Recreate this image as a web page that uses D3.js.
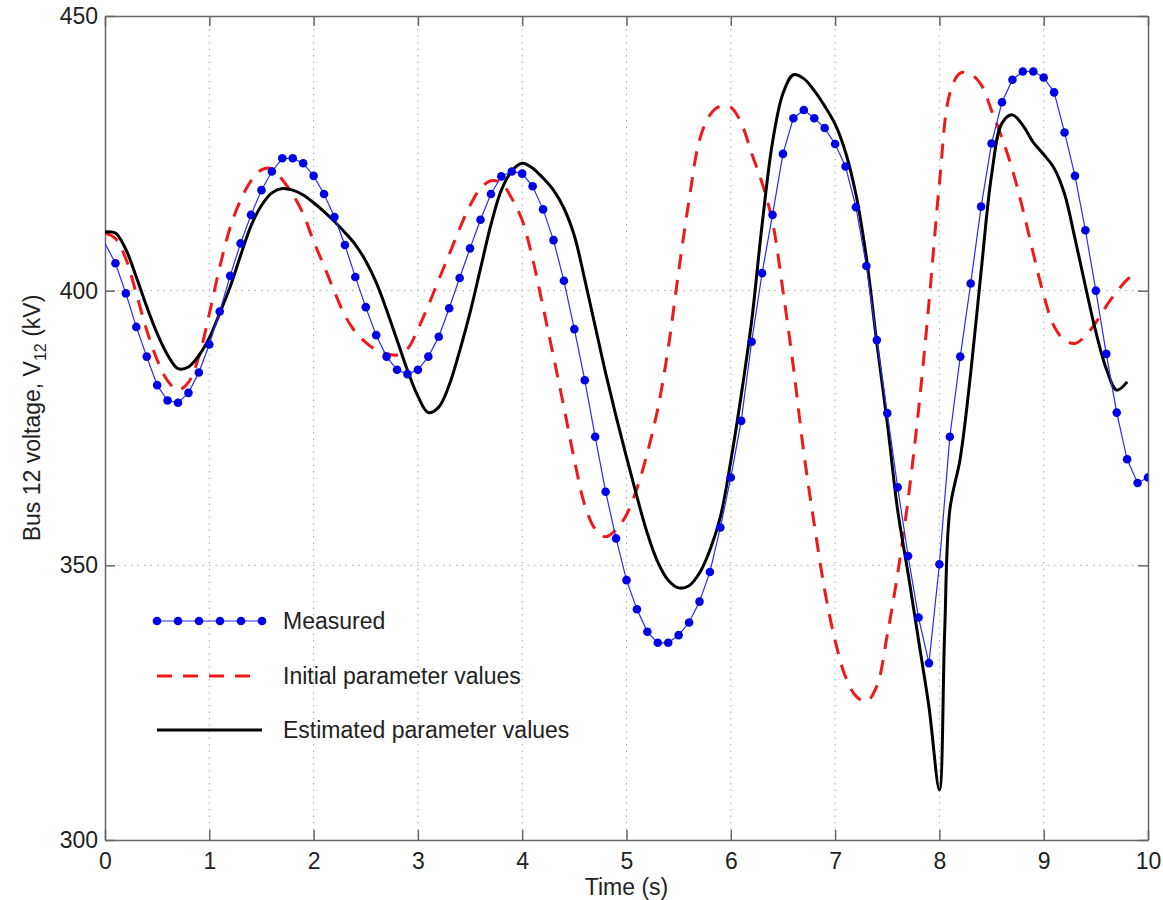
<!DOCTYPE html>
<html>
<head>
<meta charset="utf-8">
<script src="https://cdn.jsdelivr.net/npm/d3@7/dist/d3.min.js"></script>
<style>
  body { margin: 0; background: #fff; }
  svg { font-family: "Liberation Sans", Arial, sans-serif; }
  .axis path, .axis line { stroke: #666; stroke-width: 1.5; }
  .axis text { font-size: 23px; fill: #222; }
  .grid line { stroke: #aaa; stroke-width: 1; stroke-dasharray: 1.5, 5; }
</style>
</head>
<body>
<svg id="chart" width="1163" height="900"></svg>
<script>
const xTicks = [0, 1, 2, 3, 4, 5, 6, 7, 8, 9, 10]
const yTicks = [300, 350, 400, 450]

// measured, sampled every 0.1 s
const measuredTime = d3.range(0, 101).map(i => i / 10)
const measured = [
	408.6, 405.0, 399.5, 393.4, 388.0, 382.8, 380.0, 379.6, 381.4, 385.1,
	390.2, 396.2, 402.7, 408.6, 413.8, 418.3, 421.7, 424.1, 424.1, 423.2,
	420.9, 417.6, 413.4, 408.3, 402.5, 397.0, 391.9, 388.0, 385.6, 384.8,
	385.6, 388.0, 391.6, 396.8, 402.3, 407.7, 412.9, 417.6, 420.8, 421.7,
	421.3, 419.0, 414.8, 409.2, 401.8, 393.0, 383.7, 373.4, 363.4, 354.9,
	347.3, 342.0, 337.9, 335.9, 335.9, 337.3, 339.6, 343.4, 348.8, 356.9,
	366.0, 376.3, 390.7, 403.2, 413.8, 424.9, 431.4, 432.9, 431.4, 429.6,
	426.7, 422.6, 415.2, 404.5, 391.0, 377.7, 364.2, 351.7, 340.5, 332.2,
	350.2, 373.4, 388.0, 401.3, 415.3, 426.8, 434.3, 438.4, 439.9, 439.9,
	438.8, 436.1, 428.8, 420.9, 411.0, 400.0, 388.5, 377.8, 369.3, 365.0,
	366.0
]

// initial parameter values, 0 .. 9.9 s
const initialTime = d3.range(0, 100).map(i => i / 10)
const initial = [
	410.5, 409.5, 405.8, 399.5, 392.8, 387.4, 383.6, 381.9, 383.3, 388.0,
	395.8, 404.3, 411.5, 416.5, 420.0, 422.0, 422.2, 420.2, 417.5, 414.0,
	409.0, 404.5, 399.8, 395.5, 392.5, 390.6, 389.2, 388.5, 388.3, 389.4,
	393.0, 397.3, 402.0, 406.6, 411.3, 415.5, 418.6, 420.0, 419.6, 416.8,
	412.8, 405.8, 397.0, 388.0, 378.8, 369.2, 361.0, 356.6, 355.2, 356.5,
	359.2, 364.0, 370.5, 378.5, 389.5, 403.5, 416.5, 427.4, 432.0, 433.6,
	433.4, 430.5, 425.0, 419.6, 412.5, 400.0, 386.1, 370.5, 357.5, 345.5,
	336.3, 329.7, 326.2, 325.2, 328.0, 337.3, 348.5, 362.0, 378.3, 397.8,
	419.5, 435.9, 439.6, 439.4, 437.5, 432.8, 427.8, 422.0, 414.8, 406.8,
	399.2, 393.5, 391.0, 390.4, 391.8, 394.2, 397.2, 399.8, 402.0, 403.5
]

// estimated parameter values
const estimatedTime = [
	0, 0.1, 0.2, 0.3, 0.4, 0.5, 0.6, 0.7, 0.8, 0.9,
	1.0, 1.1, 1.2, 1.3, 1.4, 1.5, 1.6, 1.7, 1.8, 1.9,
	2.0, 2.1, 2.2, 2.3, 2.4, 2.5, 2.6, 2.7, 2.8, 2.9,
	3.0, 3.1, 3.2, 3.3, 3.4, 3.5, 3.6, 3.7, 3.8, 3.9,
	4.0, 4.1, 4.2, 4.3, 4.4, 4.5, 4.6, 4.7, 4.8, 4.9,
	5.0, 5.1, 5.2, 5.3, 5.4, 5.5, 5.6, 5.7, 5.8, 5.9,
	6.0, 6.1, 6.2, 6.3, 6.4, 6.5, 6.6, 6.7, 6.8, 6.9,
	7.0, 7.1, 7.2, 7.3, 7.4, 7.5, 7.6, 7.7, 7.8, 7.9,
	8.0, 8.05, 8.1, 8.2, 8.3, 8.4, 8.5, 8.6, 8.7, 8.8, 8.9,
	9.0, 9.1, 9.2, 9.3, 9.4, 9.5, 9.6, 9.7, 9.8
]
const estimated = [
	410.7, 410.5, 407.5, 402.5, 397.1, 392.2, 388.3, 385.8, 386.1, 388.2,
	391.4, 395.9, 400.7, 406.4, 411.8, 415.5, 417.8, 418.6, 418.3, 417.4,
	416.0, 414.4, 412.6, 410.6, 408.4, 405.4, 401.5, 396.5, 391.0, 385.5,
	380.8, 377.8, 378.8, 382.8, 389.0, 396.0, 404.0, 412.0, 418.3, 421.8,
	423.2, 422.3, 420.5, 418.3, 415.0, 410.0, 402.0, 393.5, 385.0, 377.1,
	369.7, 362.5, 355.8, 350.6, 347.3, 345.9, 346.3, 348.6, 352.8, 358.8,
	369.0, 381.0, 394.5, 412.0, 427.0, 435.9, 439.3, 438.6, 436.4, 433.6,
	430.3, 425.2, 417.5, 406.0, 390.5, 376.0, 360.0, 348.5, 336.4, 324.2,
	309.1, 337.6, 360.1, 369.5, 385.0, 403.5, 421.0, 430.5, 432.0, 430.1, 427.0,
	424.8, 422.3, 417.6, 409.5, 400.8, 392.5, 385.8, 381.9, 383.4
]

const legendLabels = ['Measured', 'Initial parameter values', 'Estimated parameter values']

const margins = { top: 16, right: 15, bottom: 60, left: 105 }
const svg = d3.select('#chart')
const width = 1163 - margins.left - margins.right
const height = 900 - margins.top - margins.bottom

const x = d3.scaleLinear().domain([0, 10]).range([0, width])
const y = d3.scaleLinear().domain([300, 450]).range([height, 0])

const g = svg.append('g').attr('transform', `translate(${margins.left},${margins.top})`)

// grid
g.append('g').attr('class', 'grid')
	.selectAll('line').data(xTicks.slice(1, -1)).enter().append('line')
	.attr('x1', d => x(d)).attr('x2', d => x(d)).attr('y1', 0).attr('y2', height)
g.append('g').attr('class', 'grid')
	.selectAll('line').data(yTicks.slice(1, -1)).enter().append('line')
	.attr('y1', d => y(d)).attr('y2', d => y(d)).attr('x1', 0).attr('x2', width)

// axes, ticks inside on all four sides
g.append('g').attr('class', 'axis').attr('transform', `translate(0,${height})`)
	.call(d3.axisBottom(x).tickValues(xTicks).tickSize(-10).tickSizeOuter(0).tickPadding(13))
g.append('g').attr('class', 'axis')
	.call(d3.axisTop(x).tickValues(xTicks).tickSize(-10).tickSizeOuter(0).tickFormat(''))
g.append('g').attr('class', 'axis')
	.call(d3.axisLeft(y).tickValues(yTicks).tickSize(-10).tickSizeOuter(0).tickPadding(7))
g.append('g').attr('class', 'axis').attr('transform', `translate(${width},0)`)
	.call(d3.axisRight(y).tickValues(yTicks).tickSize(-10).tickSizeOuter(0).tickFormat(''))
g.selectAll('.axis .tick text').attr('fill', '#222')

g.append('defs').append('clipPath').attr('id', 'plot-clip')
	.append('rect').attr('width', width).attr('height', height)

const plot = g.append('g').attr('clip-path', 'url(#plot-clip)')

const linePlain = d3.line().x(d => x(d[0])).y(d => y(d[1]))
const lineSmooth = d3.line().x(d => x(d[0])).y(d => y(d[1])).curve(d3.curveCatmullRom.alpha(0.5))

const initialPts = initialTime.map((t, i) => [t, initial[i]])
const estimatedPts = estimatedTime.map((t, i) => [t, estimated[i]])
const measuredPts = measuredTime.map((t, i) => [t, measured[i]])

plot.append('path').attr('d', lineSmooth(initialPts))
	.attr('fill', 'none').attr('stroke', '#f01818').attr('stroke-width', 3)
	.attr('stroke-dasharray', '15,11')

plot.append('path').attr('d', lineSmooth(estimatedPts))
	.attr('fill', 'none').attr('stroke', '#000').attr('stroke-width', 3)
	.attr('stroke-linejoin', 'round')

plot.append('path').attr('d', linePlain(measuredPts))
	.attr('fill', 'none').attr('stroke', '#2a2aff').attr('stroke-width', 1.2)

plot.selectAll('circle.m').data(measuredPts.filter(d => d[0] > 0)).enter().append('circle')
	.attr('class', 'm')
	.attr('cx', d => x(d[0])).attr('cy', d => y(d[1])).attr('r', 4.3)
	.attr('fill', '#0000e6')

// axis titles
g.append('text').attr('x', width / 2).attr('y', height + 55)
	.attr('text-anchor', 'middle').style('font-size', '23px').attr('fill', '#222')
	.text('Time (s)')

const yTitle = svg.append('text')
	.attr('transform', `translate(40,${margins.top + height / 2 - 10}) rotate(-90)`)
	.attr('text-anchor', 'middle').style('font-size', '23px').attr('fill', '#222')
yTitle.append('tspan').text('Bus 12 voltage, V')
yTitle.append('tspan').attr('dy', 6).style('font-size', '16px').text('12')
yTitle.append('tspan').attr('dy', -6).text(' (kV)')

// legend
const legend = svg.append('g').attr('transform', 'translate(157,621)')
const rowGap = 55
const sample = d3.range(6).map(i => i * 21)

legend.append('line').attr('x1', 0).attr('x2', 105).attr('y1', 0).attr('y2', 0)
	.attr('stroke', '#2a2aff').attr('stroke-width', 1.2)
legend.selectAll('circle').data(sample).enter().append('circle')
	.attr('cx', d => d).attr('cy', 0).attr('r', 4.3).attr('fill', '#0000e6')

legend.append('line').attr('x1', 0).attr('x2', 100).attr('y1', rowGap).attr('y2', rowGap)
	.attr('stroke', '#f01818').attr('stroke-width', 3).attr('stroke-dasharray', '15,11')

legend.append('line').attr('x1', 0).attr('x2', 105).attr('y1', rowGap * 2 - 1).attr('y2', rowGap * 2 - 1)
	.attr('stroke', '#000').attr('stroke-width', 3)

legend.selectAll('text').data(legendLabels).enter().append('text')
	.attr('x', 126).attr('y', (d, i) => i * rowGap - (i === 2 ? 1 : 0))
	.attr('dy', '0.36em').style('font-size', '23px').attr('fill', '#222')
	.text(d => d)
</script>
</body>
</html>
